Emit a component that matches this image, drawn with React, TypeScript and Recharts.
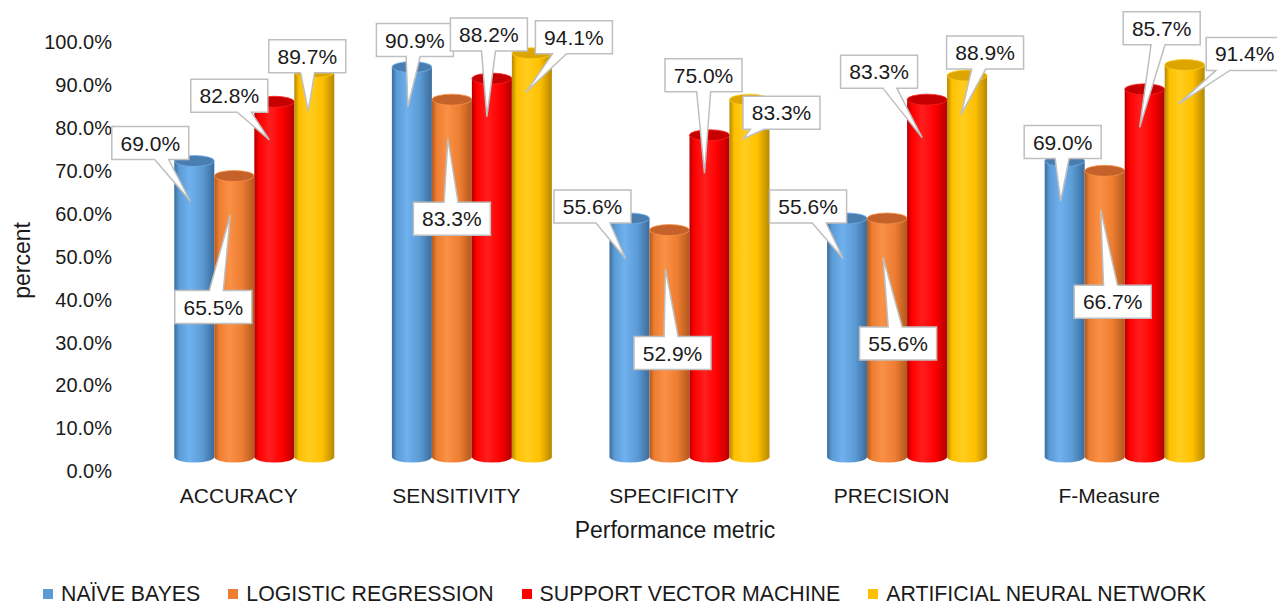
import { Bar, BarChart, LabelList, Legend, XAxis, YAxis } from "recharts";

const metrics = ["ACCURACY", "SENSITIVITY", "SPECIFICITY", "PRECISION", "F-Measure"];
const naiveBayes = [69.0, 90.9, 55.6, 55.6, 69.0];
const logisticRegression = [65.5, 83.3, 52.9, 55.6, 66.7];
const supportVector = [82.8, 88.2, 75.0, 83.3, 85.7];
const neuralNetwork = [89.7, 94.1, 83.3, 88.9, 91.4];
const yTicks = [0, 10, 20, 30, 40, 50, 60, 70, 80, 90, 100];

const data = metrics.map((metric, i) => ({
  metric,
  nb: naiveBayes[i],
  lr: logisticRegression[i],
  svm: supportVector[i],
  ann: neuralNetwork[i],
}));

const FONT = '"Liberation Sans", Arial, sans-serif';
const TEXT = "#1a1a1a";
const LIFT = 14; // 3d depth: cylinders sit a bit above the axis baseline
const RY = 5.5;
const BOX_W = 77;
const BOX_H = 33;

// callout boxes were placed by hand in the original; offset of each box centre from its cylinder top
const nbCallouts = [[-44, -18], [3, -27], [-37, -12], [-39, -12], [-2, -19]];
const lrCallouts = [[-21, 131], [0, 119], [3, 123], [11, 125], [8, 131]];
const svmCallouts = [[-45, -6], [-3, -44], [-6, -60], [-48, -28], [17, -61]];
const annCallouts = [[-7, -16], [42, -16], [32, 13], [18, -23], [60, -11]];

const series = [
  { key: "nb", name: "NAÏVE BAYES", base: "#5B9BD5", light: "#6FB1EE", dark: "#3C6B9B", top: "#4A7DB0", boxes: nbCallouts, tip: [-4, 40] },
  { key: "lr", name: "LOGISTIC REGRESSION", base: "#ED7D31", light: "#FA9147", dark: "#B2581D", top: "#C4622A", boxes: lrCallouts, tip: [-4, 39] },
  { key: "svm", name: "SUPPORT VECTOR MACHINE", base: "#FF0000", light: "#FF1E1E", dark: "#B30000", top: "#C60000", boxes: svmCallouts, tip: [-5, 38] },
  { key: "ann", name: "ARTIFICIAL NEURAL NETWORK", base: "#FFC000", light: "#FFCD1F", dark: "#B58800", top: "#DCA500", boxes: annCallouts, tip: [-6, 39] },
];

const clamp = (v: number, lo: number, hi: number) => Math.max(lo, Math.min(hi, v));

function calloutPath(bx: number, by: number, w: number, h: number, tx: number, ty: number) {
  const cx = bx + w / 2;
  const cy = by + h / 2;
  const dx = tx - cx;
  const dy = ty - cy;
  const half = 7;
  if (Math.abs(dy) / h >= Math.abs(dx) / w) {
    const m = clamp(cx + (dx * (h / 2)) / Math.abs(dy || 1), bx + half + 2, bx + w - half - 2);
    if (dy > 0)
      return `M${bx},${by}H${bx + w}V${by + h}H${m + half}L${tx},${ty}L${m - half},${by + h}H${bx}Z`;
    return `M${bx},${by}H${m - half}L${tx},${ty}L${m + half},${by}H${bx + w}V${by + h}H${bx}Z`;
  }
  const m = clamp(cy + (dy * (w / 2)) / Math.abs(dx || 1), by + half + 2, by + h - half - 2);
  if (dx > 0)
    return `M${bx},${by}H${bx + w}V${m - half}L${tx},${ty}L${bx + w},${m + half}V${by + h}H${bx}Z`;
  return `M${bx},${by}H${bx + w}V${by + h}H${bx}V${m + half}L${tx},${ty}L${bx},${m - half}Z`;
}

function makeCylinder(s: (typeof series)[number]) {
  return (props: any) => {
    const { x, y, width, height } = props;
    if (width == null || height == null) return null;
    const top = y - LIFT;
    const bottom = y + height - LIFT;
    const rx = width / 2;
    return (
      <g>
        <path
          d={`M${x},${top}V${bottom}A${rx},${RY} 0 0 0 ${x + width},${bottom}V${top}Z`}
          fill={`url(#grad-${s.key})`}
        />
        <ellipse cx={x + rx} cy={top} rx={rx} ry={RY} fill={s.top} stroke={s.light} strokeWidth={0.8} />
      </g>
    );
  };
}

function makeCallout(s: (typeof series)[number]) {
  return (props: any) => {
    const vb = props.viewBox || props;
    const { x, y, width } = vb;
    if (x == null) return null;
    const cx = x + width / 2;
    const cy = y - LIFT;
    const [bdx, bdy] = s.boxes[props.index] || [0, -30];
    const bx = cx + bdx - BOX_W / 2;
    const by = Math.max(2, cy + bdy - BOX_H / 2);
    const tx = cx + s.tip[0];
    const ty = cy + s.tip[1];
    return (
      <g>
        <path d={calloutPath(bx, by, BOX_W, BOX_H, tx, ty)} fill="#ffffff" stroke="#BFBFBF" strokeWidth={1.5} />
        <text
          x={bx + BOX_W / 2}
          y={by + BOX_H / 2}
          dy="0.36em"
          textAnchor="middle"
          fontSize={21}
          fontFamily={FONT}
          fill={TEXT}
        >
          {Number(props.value).toFixed(1)}%
        </text>
      </g>
    );
  };
}

const XTick = ({ x, y, payload }: any) => (
  <text x={x - 16} y={y} dy="0.71em" textAnchor="middle" fontSize={21} fontFamily={FONT} fill={TEXT}>
    {payload.value}
  </text>
);

const YTick = ({ x, y, payload }: any) => (
  <text x={x} y={y} dy="0.36em" textAnchor="end" fontSize={20} fontFamily={FONT} fill={TEXT}>
    {Number(payload.value).toFixed(1)}%
  </text>
);

const LegendContent = () => (
  <div
    style={{
      display: "flex",
      alignItems: "center",
      height: 28,
      paddingLeft: 35,
      fontFamily: FONT,
      fontSize: 21.3,
      color: TEXT,
      whiteSpace: "nowrap",
    }}
  >
    {series.map((s) => (
      <div key={s.key} style={{ display: "flex", alignItems: "center", marginRight: 28 }}>
        <span style={{ display: "inline-block", width: 10, height: 10, background: s.base, marginRight: 8 }} />
        <span>{s.name}</span>
      </div>
    ))}
  </div>
);

export default function App() {
  return (
    <div style={{ fontFamily: FONT }}>
      <BarChart
        width={1277}
        height={596}
        data={data}
        margin={{ top: 34, right: 51, left: 0, bottom: 35 }}
        barCategoryGap="13%"
        barGap={0}
      >
        <defs>
          {series.map((s) => (
            <linearGradient key={s.key} id={`grad-${s.key}`} x1="0" y1="0" x2="1" y2="0">
              <stop offset="0%" stopColor={s.dark} />
              <stop offset="12%" stopColor={s.base} />
              <stop offset="38%" stopColor={s.light} />
              <stop offset="70%" stopColor={s.base} />
              <stop offset="100%" stopColor={s.dark} />
            </linearGradient>
          ))}
        </defs>
        <XAxis
          dataKey="metric"
          axisLine={false}
          tickLine={false}
          tickSize={0}
          tickMargin={17}
          height={70}
          tick={<XTick />}
          interval={0}
          label={({ viewBox }: any) => (
            <text
              x={viewBox.x + viewBox.width / 2 - 15}
              y={viewBox.y + 59}
              dy="0.36em"
              textAnchor="middle"
              fontSize={23}
              fontFamily={FONT}
              fill={TEXT}
            >
              Performance metric
            </text>
          )}
        />
        <YAxis
          domain={[0, 100]}
          ticks={yTicks}
          axisLine={false}
          tickLine={false}
          tickSize={0}
          tickMargin={34}
          width={138}
          tick={<YTick />}
          label={({ viewBox }: any) => (
            <text
              x={14}
              y={viewBox.y + viewBox.height / 2 + 4}
              dy="0.36em"
              textAnchor="middle"
              transform={`rotate(-90 14 ${viewBox.y + viewBox.height / 2 + 4})`}
              fontSize={23}
              fontFamily={FONT}
              fill={TEXT}
            >
              percent
            </text>
          )}
        />
        <Legend content={<LegendContent />} verticalAlign="bottom" wrapperStyle={{ top: 572, left: 0 }} />
        {series.map((s) => (
          <Bar key={s.key} dataKey={s.key} name={s.name} fill={s.base} shape={makeCylinder(s)} isAnimationActive={false}>
            <LabelList dataKey={s.key} content={makeCallout(s)} />
          </Bar>
        ))}
      </BarChart>
    </div>
  );
}
